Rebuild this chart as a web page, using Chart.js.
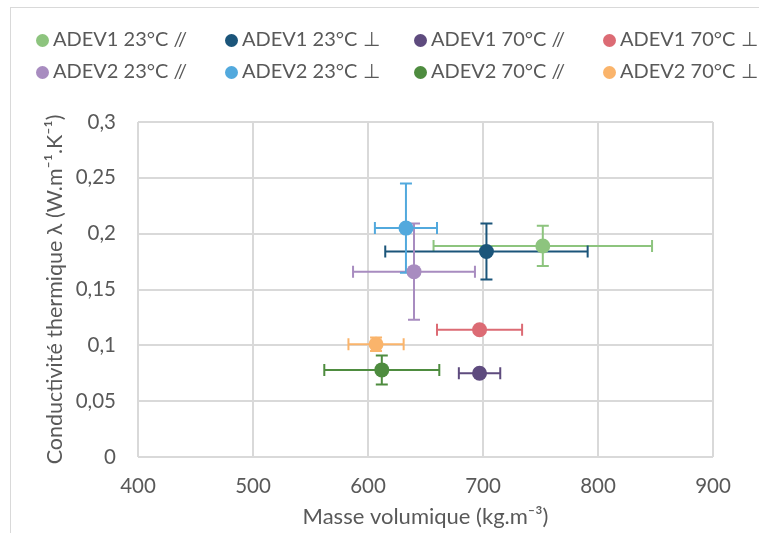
<!DOCTYPE html>
<html>
<head>
<meta charset="utf-8">
<script src="https://cdn.jsdelivr.net/npm/chart.js@4.4.1/dist/chart.umd.min.js"></script>
<style>
html, body { margin: 0; padding: 0; background: #fff; }
#cadre { position: absolute; left: 10px; top: 7px; width: 800px; height: 600px; border: 1px solid #d9d9d9; }
#zone { position: absolute; left: 0; top: 0; width: 759px; height: 533px; }
#legende { position: absolute; left: 36px; top: 22px; display: grid; grid-template-columns: repeat(4, 189px);
  font: 20px Lato, sans-serif; color: #595959; }
#legende div { height: 32px; line-height: 32px; white-space: nowrap; }
#legende span.pt { display: inline-block; width: 13px; height: 13px; border-radius: 50%; margin-right: 4px; vertical-align: -1px; }
</style>
</head>
<body>
<div id="cadre"></div>
<div id="zone"><canvas id="grafico"></canvas></div>
<div id="legende"></div>
<script>
// =====================================
// DONNEES
// =====================================

const series = ["ADEV1 23°C //", "ADEV1 23°C ⊥", "ADEV1 70°C //", "ADEV1 70°C ⊥",
                "ADEV2 23°C //", "ADEV2 23°C ⊥", "ADEV2 70°C //", "ADEV2 70°C ⊥"];
const couleurs = ["#8DC47E", "#1B557A", "#5E4B7E", "#DC6B74",
                  "#A88CC0", "#52A9DD", "#4E8C3F", "#FAB46B"];
const masse = [752, 703, 697, 697, 640, 633, 612, 607];            // kg.m-3
const lambda = [0.189, 0.184, 0.075, 0.114, 0.166, 0.205, 0.078, 0.101];
const erreurMasse = [95, 88, 18, 37, 53, 27, 50, 24];
const erreurLambda = [0.018, 0.025, 0, 0, 0.043, 0.040, 0.013, 0.006];
const etiquettesY = ["0", "0,05", "0,1", "0,15", "0,2", "0,25", "0,3"];
const etiquettesX = ["400", "500", "600", "700", "800", "900"];

const GRIS = "#595959";
const POLICE = "Lato, sans-serif";

// =====================================
// LEGENDE
// =====================================

const legende = document.getElementById("legende");
series.forEach((s, i) => {
    const d = document.createElement("div");
    d.innerHTML = `<span class="pt" style="background:${couleurs[i]}"></span>${s}`;
    legende.appendChild(d);
});

// =====================================
// BARRES D'ERREUR
// =====================================

const barresErreur = {
    id: "barresErreur",
    beforeDatasetsDraw(chart) {
        const ctx = chart.ctx;
        const sx = chart.scales.x, sy = chart.scales.y;
        const cap = 6;
        series.forEach((s, i) => {
            const px = sx.getPixelForValue(masse[i]);
            const py = sy.getPixelForValue(lambda[i]);
            ctx.save();
            ctx.strokeStyle = couleurs[i];
            ctx.lineWidth = 2;
            ctx.beginPath();
            if (erreurMasse[i]) {
                const x1 = sx.getPixelForValue(masse[i] - erreurMasse[i]);
                const x2 = sx.getPixelForValue(masse[i] + erreurMasse[i]);
                ctx.moveTo(x1, py); ctx.lineTo(x2, py);
                ctx.moveTo(x1, py - cap); ctx.lineTo(x1, py + cap);
                ctx.moveTo(x2, py - cap); ctx.lineTo(x2, py + cap);
            }
            if (erreurLambda[i]) {
                const y1 = sy.getPixelForValue(lambda[i] - erreurLambda[i]);
                const y2 = sy.getPixelForValue(lambda[i] + erreurLambda[i]);
                ctx.moveTo(px, y1); ctx.lineTo(px, y2);
                ctx.moveTo(px - cap, y1); ctx.lineTo(px + cap, y1);
                ctx.moveTo(px - cap, y2); ctx.lineTo(px + cap, y2);
            }
            ctx.stroke();
            ctx.restore();
        });
    }
};

// =====================================
// GRAPHIQUE
// =====================================

new Chart(document.getElementById("grafico"), {
    type: "scatter",
    data: {
        datasets: series.map((s, i) => ({
            label: s,
            data: [{ x: masse[i], y: lambda[i] }],
            backgroundColor: couleurs[i],
            borderWidth: 0,
            pointRadius: 7.5,
            pointHoverRadius: 7.5
        }))
    },
    options: {
        responsive: true,
        maintainAspectRatio: false,
        animation: false,
        layout: { padding: { top: 122, right: 46, left: 42, bottom: 3 } },
        plugins: {
            legend: { display: false },
            tooltip: { enabled: false }
        },
        scales: {
            x: {
                min: 400, max: 900,
                afterFit: s => { s.height = 73; },
                ticks: {
                    stepSize: 100, padding: 17, color: GRIS,
                    font: { family: POLICE, size: 20.5 },
                    callback: (v, i) => etiquettesX[i]
                },
                grid: { color: "#d9d9d9", lineWidth: 2, drawTicks: false },
                border: { display: false },
                title: {
                    display: true, text: "Masse volumique (kg.m⁻³)", color: GRIS,
                    font: { family: POLICE, size: 22 }, padding: 0
                }
            },
            y: {
                min: 0, max: 0.3,
                afterFit: s => { s.width = 138 - 42; },
                ticks: {
                    stepSize: 0.05, padding: 22, color: GRIS,
                    font: { family: POLICE, size: 20.5 },
                    callback: (v, i) => etiquettesY[i]
                },
                grid: { color: "#d9d9d9", lineWidth: 2, drawTicks: false },
                border: { display: false },
                title: {
                    display: true, text: "Conductivité thermique λ (W.m⁻¹.K⁻¹)", color: GRIS,
                    font: { family: POLICE, size: 21.5 }, padding: 0
                }
            }
        }
    },
    plugins: [barresErreur]
});
</script>
</body>
</html>
